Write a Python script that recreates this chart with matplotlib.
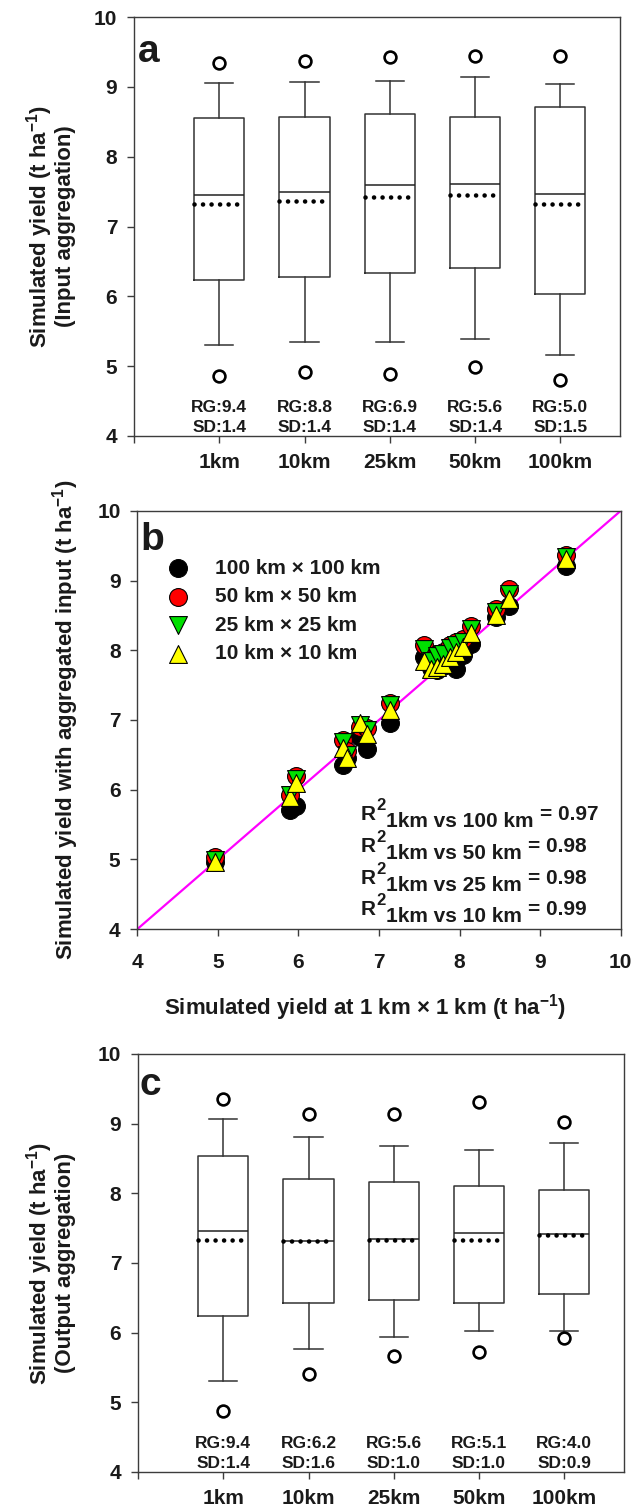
import matplotlib
matplotlib.use("Agg")
import matplotlib.pyplot as plt

plt.rcParams["font.family"] = ["Liberation Sans", "DejaVu Sans"]
plt.rcParams["font.weight"] = "bold"
plt.rcParams["mathtext.fontset"] = "custom"
plt.rcParams["mathtext.rm"] = "Liberation Sans:bold"
plt.rcParams["mathtext.bf"] = "Liberation Sans:bold"
plt.rcParams["mathtext.default"] = "bf"
plt.rcParams["text.color"] = "#1a1a1a"

categories = ["1km", "10km", "25km", "50km", "100km"]

# panel a - input aggregation
a_whislo = [5.30, 5.34, 5.35, 5.39, 5.16]
a_q1 = [6.24, 6.28, 6.33, 6.40, 6.04]
a_med = [7.45, 7.49, 7.59, 7.61, 7.46]
a_mean = [7.33, 7.37, 7.42, 7.45, 7.33]
a_q3 = [8.55, 8.57, 8.61, 8.57, 8.71]
a_whishi = [9.05, 9.07, 9.08, 9.15, 9.04]
a_out_hi = [9.35, 9.37, 9.43, 9.44, 9.45]
a_out_lo = [4.86, 4.91, 4.89, 4.99, 4.80]
a_rg = ["9.4", "8.8", "6.9", "5.6", "5.0"]
a_sd = ["1.4", "1.4", "1.4", "1.4", "1.5"]

# panel c - output aggregation
c_whislo = [5.31, 5.77, 5.93, 6.03, 6.03]
c_q1 = [6.24, 6.43, 6.47, 6.43, 6.56]
c_med = [7.46, 7.32, 7.34, 7.43, 7.42]
c_mean = [7.33, 7.31, 7.33, 7.33, 7.40]
c_q3 = [8.54, 8.21, 8.16, 8.10, 8.04]
c_whishi = [9.06, 8.81, 8.68, 8.62, 8.72]
c_out_hi = [9.35, 9.14, 9.14, 9.31, 9.03]
c_out_lo = [4.87, 5.41, 5.66, 5.72, 5.92]
c_rg = ["9.4", "6.2", "5.6", "5.1", "4.0"]
c_sd = ["1.4", "1.6", "1.0", "1.0", "0.9"]

# panel b - yield at 1 km vs aggregated input
x_1km = [4.97, 5.90, 5.97, 6.55, 6.60, 6.77, 6.85, 7.14, 7.56, 7.64, 7.72, 7.80,
         7.88, 7.96, 8.04, 8.14, 8.45, 8.61, 9.32]
y_100km = [4.97, 5.71, 5.76, 6.35, 6.45, 6.75, 6.59, 6.95, 7.90, 7.75, 7.71, 7.78,
           7.83, 7.73, 7.93, 8.09, 8.47, 8.64, 9.21]
y_50km = [5.03, 5.93, 6.20, 6.72, 6.55, 6.90, 6.88, 7.25, 8.07, 7.92, 7.95, 7.98,
          8.07, 8.12, 8.16, 8.35, 8.59, 8.88, 9.36]
y_25km = [4.99, 5.92, 6.15, 6.68, 6.50, 6.93, 6.85, 7.22, 8.02, 7.85, 7.92, 7.95,
          8.03, 8.08, 8.12, 8.30, 8.55, 8.81, 9.33]
y_10km = [4.97, 5.90, 6.10, 6.60, 6.45, 6.95, 6.80, 7.15, 7.85, 7.73, 7.76, 7.80,
          7.90, 7.98, 8.05, 8.25, 8.50, 8.74, 9.31]
r2_labels = ["100 km", "50 km", "25 km", "10 km"]
r2_values = ["0.97", "0.98", "0.98", "0.99"]

SPINE = "#3c3c3c"


def style_axes(ax):
    for sp in ax.spines.values():
        sp.set_color(SPINE)
        sp.set_linewidth(1.0)
    ax.tick_params(direction="out", length=5, width=1, color=SPINE,
                   labelsize=15, pad=7, labelcolor="#1a1a1a")
    ax.set_ylim(4, 10)
    ax.set_yticks(range(4, 11))


def draw_boxes(ax, whislo, q1, med, mean, q3, whishi, hi, lo, rg, sd):
    stats = []
    for i in range(len(med)):
        stats.append(dict(whislo=whislo[i], q1=q1[i], med=med[i], mean=mean[i],
                          q3=q3[i], whishi=whishi[i], fliers=[hi[i], lo[i]]))
    pos = list(range(1, len(med) + 1))
    ax.bxp(stats, positions=pos, widths=0.59, capwidths=0.33,
           showmeans=True, meanline=True,
           boxprops=dict(color="#333333", lw=1.1),
           whiskerprops=dict(color="#333333", lw=1.1),
           capprops=dict(color="#333333", lw=1.1),
           medianprops=dict(color="#222222", lw=1.1),
           meanprops=dict(color="black", lw=3.3, linestyle=(0, (0.01, 1.85)),
                          dash_capstyle="round"),
           flierprops=dict(marker="o", markerfacecolor="white",
                           markeredgecolor="black", markersize=8.5,
                           markeredgewidth=1.9))
    for p, r, s in zip(pos, rg, sd):
        ax.text(p, 4.34, f"RG:{r}", ha="center", va="baseline", fontsize=12.5)
        ax.text(p, 4.06, f"SD:{s}", ha="center", va="baseline", fontsize=12.5)
    ax.set_xlim(0, 5.7)
    ax.set_xticks([0] + pos)
    ax.set_xticklabels([""] + categories, fontsize=16)
    style_axes(ax)


fig = plt.figure(figsize=(6.31, 15.08), dpi=100)
ax_a = fig.add_axes([0.2124, 0.7109, 0.7702, 0.2777])
ax_b = fig.add_axes([0.2174, 0.3838, 0.7664, 0.2775])
ax_c = fig.add_axes([0.2187, 0.0239, 0.7702, 0.2772])

# panel a
draw_boxes(ax_a, a_whislo, a_q1, a_med, a_mean, a_q3, a_whishi, a_out_hi, a_out_lo, a_rg, a_sd)
ax_a.text(-0.173, 0.5, "Simulated yield (t ha$^{-1}$)\n(Input aggregation)",
          transform=ax_a.transAxes, rotation=90, ha="center", va="center",
          fontsize=16, linespacing=1.0)
ax_a.text(0.008, 0.893, "a", transform=ax_a.transAxes, fontsize=28, va="baseline")

# panel c
draw_boxes(ax_c, c_whislo, c_q1, c_med, c_mean, c_q3, c_whishi, c_out_hi, c_out_lo, c_rg, c_sd)
ax_c.text(-0.181, 0.5, "Simulated yield (t ha$^{-1}$)\n(Output aggregation)",
          transform=ax_c.transAxes, rotation=90, ha="center", va="center",
          fontsize=16, linespacing=1.0)
ax_c.text(0.004, 0.902, "c", transform=ax_c.transAxes, fontsize=28, va="baseline")

# panel b
ax_b.plot([4, 10], [4, 10], color="#ff00ff", lw=1.6, zorder=1)
kw = dict(s=165, edgecolors="black", linewidths=0.8, zorder=3)
ax_b.scatter(x_1km, y_100km, marker="o", c="black", label="100 km × 100 km", **kw)
ax_b.scatter(x_1km, y_50km, marker="o", c="#ff0000", label="50 km × 50 km", **kw)
ax_b.scatter(x_1km, y_25km, marker="v", c="#00e000", label="25 km × 25 km", **kw)
ax_b.scatter(x_1km, y_10km, marker="^", c="#ffff00", label="10 km × 10 km", **kw)
ax_b.legend(loc="upper left", bbox_to_anchor=(0.063, 0.885), frameon=False,
            fontsize=15, handlelength=1.0, handletextpad=1.28, labelspacing=0.45,
            borderpad=0, borderaxespad=0)
ax_b.set_xlim(4, 10)
ax_b.set_xticks(range(4, 11))
style_axes(ax_b)
ax_b.tick_params(axis="x", pad=12)
ax_b.text(0.471, -0.188, "Simulated yield at 1 km × 1 km (t ha$^{-1}$)",
          transform=ax_b.transAxes, ha="center", va="center", fontsize=16)
ax_b.text(-0.149, 0.5, "Simulated yield with aggregated input (t ha$^{-1}$)",
          transform=ax_b.transAxes, rotation=90, ha="center", va="center", fontsize=16)
ax_b.text(0.006, 0.906, "b", transform=ax_b.transAxes, fontsize=28, va="baseline")

for i, (lab, val) in enumerate(zip(r2_labels, r2_values)):
    yb = 0.261 - 0.076 * i
    t1 = ax_b.text(0.462, yb, "R", transform=ax_b.transAxes, fontsize=15,
                   va="baseline", ha="left")
    t2 = ax_b.annotate("2", xy=(1, 0), xycoords=t1, xytext=(0.5, 8),
                       textcoords="offset points", fontsize=12, va="bottom", ha="left")
    t3 = ax_b.annotate(f"1km vs {lab}", xy=(1, 0), xycoords=(t2, t1), xytext=(0, -5),
                       textcoords="offset points", fontsize=15, va="bottom", ha="left")
    ax_b.annotate(f"= {val}", xy=(1, 0), xycoords=(t3, t1), xytext=(5, 0),
                  textcoords="offset points", fontsize=15, va="bottom", ha="left")

fig.savefig("out.png", dpi=100)
